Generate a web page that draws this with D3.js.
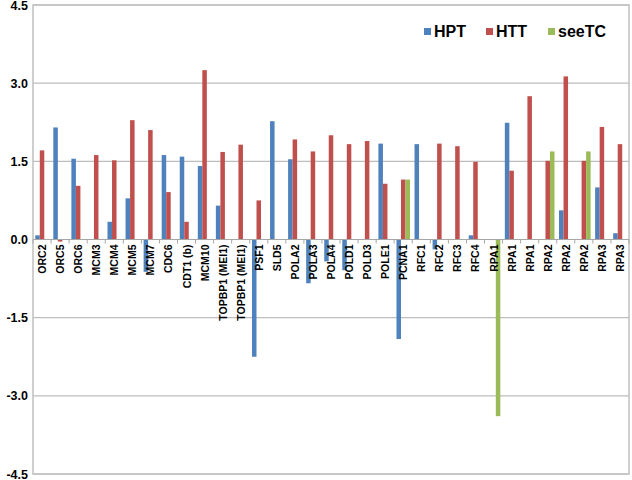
<!DOCTYPE html>
<html>
<head>
<meta charset="utf-8">
<script src="https://cdn.jsdelivr.net/npm/d3@7"></script>
<style>
  body { margin: 0; background: #fff; }
  text { font-family: "Liberation Sans", Arial, sans-serif; font-weight: bold; }
</style>
</head>
<body>
<svg id="chart" width="632" height="480"></svg>
<script>
// categories along the x axis
var genes = ["ORC2", "ORC5", "ORC6", "MCM3", "MCM4", "MCM5", "MCM7", "CDC6", "CDT1 (b)", "MCM10",
  "TOPBP1 (MEI1)", "TOPBP1 (MEI1)", "PSF1", "SLD5", "POLA2", "POLA3", "POLA4", "POLD1", "POLD3",
  "POLE1", "PCNA1", "RFC1", "RFC2", "RFC3", "RFC4", "RPA1", "RPA1", "RPA1", "RPA2", "RPA2", "RPA2",
  "RPA3", "RPA3"];

// series values (null = no bar)
var hpt = [0.08, 2.15, 1.55, null, 0.34, 0.79, -0.62, 1.62, 1.59, 1.41,
  0.65, null, -2.25, 2.27, 1.54, -0.84, -0.42, -0.59, null,
  1.84, -1.91, 1.83, -0.19, null, 0.08, null, 2.24, null, null, 0.56, null,
  1.0, 0.12];
var htt = [1.71, -0.04, 1.03, 1.62, 1.52, 2.29, 2.10, 0.91, 0.34, 3.25,
  1.68, 1.82, 0.75, null, 1.92, 1.69, 2.0, 1.83, 1.89,
  1.07, 1.15, null, 1.84, 1.79, 1.49, null, 1.32, 2.75, 1.51, 3.13, 1.51,
  2.16, 1.83];
var seetc = [null, null, null, null, null, null, null, null, null, null,
  null, null, null, null, null, null, null, null, null,
  null, 1.15, null, null, null, null, -3.39, null, null, 1.69, null, 1.69,
  null, null];

var seriesNames = ["HPT", "HTT", "seeTC"];
var seriesValues = [hpt, htt, seetc];
var colors = ["#4F81BD", "#C0504D", "#9BBB59"];
var yTicks = [-4.5, -3.0, -1.5, 0.0, 1.5, 3.0, 4.5];

var svg = d3.select("#chart");
var plotL = 33, plotR = 629, plotT = 5, plotB = 474;

var y = d3.scaleLinear().domain([-4.5, 4.5]).range([plotB, plotT]);
var x = d3.scaleBand().domain(d3.range(genes.length)).range([plotL, plotR]).paddingInner(0.25).paddingOuter(0.125);
var xs = d3.scaleBand().domain(d3.range(3)).range([0, x.bandwidth()]);
var step = x.step();

// gridlines
svg.append("g").selectAll("line")
  .data(yTicks)
  .enter().append("line")
  .attr("x1", plotL).attr("x2", plotR)
  .attr("y1", function (d) { return y(d); })
  .attr("y2", function (d) { return y(d); })
  .attr("stroke", "#BDBDBD")
  .attr("stroke-width", 1.2);

// plot border
svg.append("rect")
  .attr("x", plotL).attr("y", plotT)
  .attr("width", plotR - plotL).attr("height", plotB - plotT)
  .attr("fill", "none")
  .attr("stroke", "#C0C0C0")
  .attr("stroke-width", 1.5);

// y labels
svg.append("g").selectAll("text")
  .data(yTicks)
  .enter().append("text")
  .attr("x", 28)
  .attr("y", function (d) { return y(d) + 4.5; })
  .attr("text-anchor", "end")
  .attr("font-size", "12.5px")
  .attr("fill", "#000")
  .text(function (d) { return d.toFixed(1); });

// bars
seriesValues.forEach(function (vals, s) {
  svg.append("g").selectAll("rect")
    .data(vals.map(function (v, i) { return { v: v, i: i }; }).filter(function (d) { return d.v !== null; }))
    .enter().append("rect")
    .attr("x", function (d) { return x(d.i) + xs(s); })
    .attr("width", xs.bandwidth())
    .attr("y", function (d) { return y(Math.max(0, d.v)); })
    .attr("height", function (d) { return Math.abs(y(d.v) - y(0)); })
    .attr("fill", colors[s]);
});

// zero axis with tick marks between categories
svg.append("line")
  .attr("x1", plotL).attr("x2", plotR)
  .attr("y1", y(0)).attr("y2", y(0))
  .attr("stroke", "#A6A6A6").attr("stroke-width", 1.2);

svg.append("g").selectAll("line")
  .data(d3.range(genes.length + 1))
  .enter().append("line")
  .attr("x1", function (i) { return plotL + i * step; })
  .attr("x2", function (i) { return plotL + i * step; })
  .attr("y1", y(0)).attr("y2", y(0) + 4)
  .attr("stroke", "#A6A6A6");

// category labels, rotated
svg.append("g").selectAll("text")
  .data(genes)
  .enter().append("text")
  .attr("transform", function (d, i) {
    return "translate(" + (x(i) + x.bandwidth() / 2 + 4) + "," + (y(0) + 5) + ") rotate(-90)";
  })
  .attr("text-anchor", "end")
  .attr("font-size", "10.5px")
  .attr("fill", "#000")
  .text(function (d) { return d; });

// legend
var legendX = [424, 486, 548];
var legend = svg.append("g").selectAll("g")
  .data(seriesNames)
  .enter().append("g")
  .attr("transform", function (d, i) { return "translate(" + legendX[i] + ",28)"; });
legend.append("rect")
  .attr("width", 7).attr("height", 7)
  .attr("fill", function (d, i) { return colors[i]; });
legend.append("text")
  .attr("x", 10).attr("y", 9)
  .attr("font-size", "16px")
  .attr("fill", "#000")
  .text(function (d) { return d; });
</script>
</body>
</html>
